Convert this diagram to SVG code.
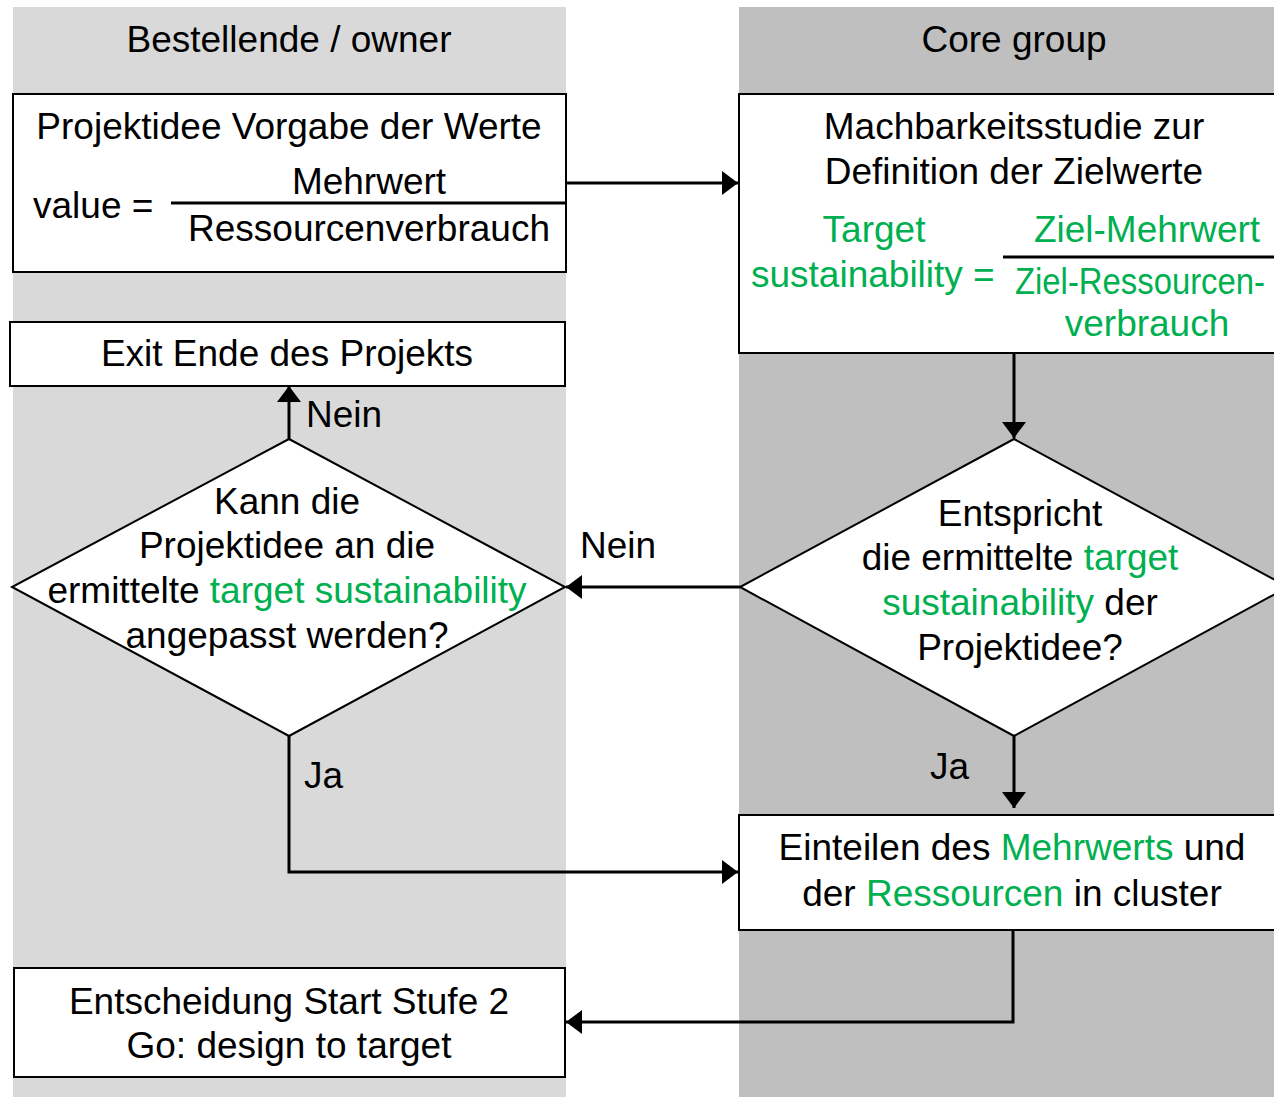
<svg xmlns="http://www.w3.org/2000/svg" width="1274" height="1097" viewBox="0 0 1274 1097">
<style>
.t{font-family:"Liberation Sans",Arial,sans-serif;font-size:37px;fill:#000}
.m{text-anchor:middle}
.g{fill:#00b050}
.box{fill:#fff;stroke:#000;stroke-width:2}
.con{fill:none;stroke:#000;stroke-width:3}
</style>
<defs>
<marker id="ah" markerUnits="userSpaceOnUse" markerWidth="16" markerHeight="24" refX="16" refY="12" orient="auto"><path d="M0,0 L16,12 L0,24 Z" fill="#000"/></marker>
</defs>
<rect width="1274" height="1097" fill="#fff"/>
<g id="lane-owner">
<rect x="13" y="7" width="553" height="1090" fill="#d9d9d9"/>
<text class="t m" x="289" y="52">Bestellende / owner</text>
</g>
<g id="lane-core">
<rect x="739" y="7" width="535" height="1090" fill="#bfbfbf"/>
<text class="t m" x="1014" y="52">Core group</text>
</g>
<g id="connectors">
<path class="con" d="M566,183 H738" marker-end="url(#ah)"/>
<path class="con" d="M1014,353 V438" marker-end="url(#ah)"/>
<path class="con" d="M740,587 H566" marker-end="url(#ah)"/>
<path class="con" d="M289,440 V386" marker-end="url(#ah)"/>
<path class="con" d="M1014,736 V808" marker-end="url(#ah)"/>
<path class="con" d="M289,736 V872 H738" marker-end="url(#ah)"/>
<path class="con" d="M1013,930 V1022 H566" marker-end="url(#ah)"/>
<text class="t" x="306" y="427">Nein</text>
<text class="t" x="580" y="558">Nein</text>
<text class="t" x="930" y="779">Ja</text>
<text class="t" x="304" y="788">Ja</text>
</g>
<g id="projektidee">
<rect class="box" x="13" y="94" width="553" height="178"/>
<text class="t m" x="289" y="139">Projektidee Vorgabe der Werte</text>
<text class="t m" x="369" y="194">Mehrwert</text>
<path d="M171,203 H566" stroke="#000" stroke-width="3"/>
<text class="t" x="33" y="218">value =</text>
<text class="t m" x="369" y="241">Ressourcenverbrauch</text>
</g>
<g id="machbarkeit">
<rect class="box" x="739" y="94" width="560" height="259"/>
<text class="t m" x="1014" y="139">Machbarkeitsstudie zur</text>
<text class="t m" x="1014" y="184">Definition der Zielwerte</text>
<text class="t m g" x="874" y="242">Target</text>
<text class="t g" x="751" y="287">sustainability =</text>
<text class="t m g" x="1147" y="242">Ziel-Mehrwert</text>
<path d="M1003,257 H1274" stroke="#000" stroke-width="3"/>
<text class="t g" x="1015" y="294" textLength="250" lengthAdjust="spacingAndGlyphs">Ziel-Ressourcen-</text>
<text class="t m g" x="1147" y="336">verbrauch</text>
</g>
<g id="exit">
<rect class="box" x="10" y="322" width="555" height="64"/>
<text class="t m" x="287" y="366">Exit Ende des Projekts</text>
</g>
<g id="entscheidung-anpassen">
<path class="box" d="M289,439 L565,587 L289,736 L12,587 Z"/>
<text class="t m" x="287" y="514">Kann die</text>
<text class="t m" x="287" y="558">Projektidee an die</text>
<text class="t m" x="287" y="603">ermittelte <tspan class="g">target sustainability</tspan></text>
<text class="t m" x="287" y="648">angepasst werden?</text>
</g>
<g id="entscheidung-entspricht">
<path class="box" d="M1014,439 L1288,587 L1014,736 L740,587 Z"/>
<text class="t m" x="1020" y="526">Entspricht</text>
<text class="t m" x="1020" y="570">die ermittelte <tspan class="g">target</tspan></text>
<text class="t m" x="1020" y="615"><tspan class="g">sustainability</tspan> der</text>
<text class="t m" x="1020" y="660">Projektidee?</text>
</g>
<g id="einteilen">
<rect class="box" x="739" y="815" width="560" height="115"/>
<text class="t m" x="1012" y="860">Einteilen des <tspan class="g">Mehrwerts</tspan> und</text>
<text class="t m" x="1012" y="906">der <tspan class="g">Ressourcen</tspan> in cluster</text>
</g>
<g id="start-stufe2">
<rect class="box" x="14" y="968" width="551" height="109"/>
<text class="t m" x="289" y="1014">Entscheidung Start Stufe 2</text>
<text class="t m" x="289" y="1058">Go: design to target</text>
</g>
</svg>
